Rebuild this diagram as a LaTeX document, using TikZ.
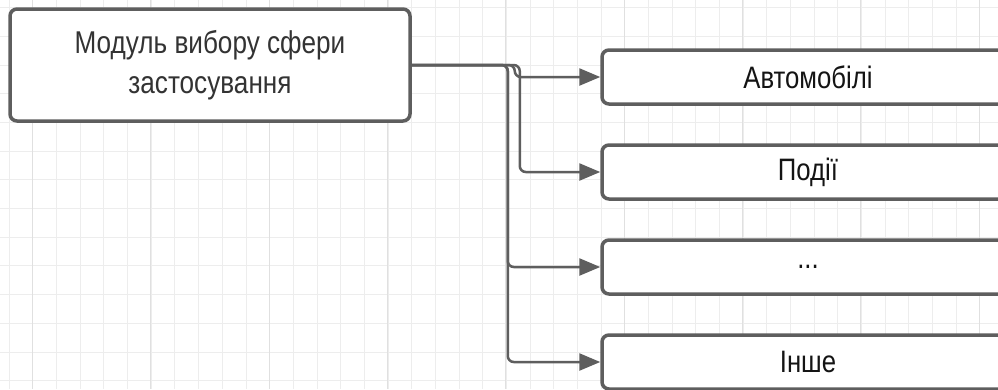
\documentclass[tikz,border=0pt]{standalone}
\usepackage{fontspec}
\setmainfont[FakeStretch=0.83]{Liberation Sans}
\usetikzlibrary{arrows.meta}
\definecolor{linegray}{HTML}{5E5E5E}
\definecolor{gridminor}{HTML}{EDEDED}
\definecolor{gridmajor}{HTML}{E0E0E0}
\tikzstyle{module} = [rectangle, rounded corners=7pt, minimum width=400pt, minimum height=112pt, draw=linegray, line width=3.5pt, fill=white, align=center, font=\fontsize{31.5}{40}\selectfont, text=black!80]
\tikzstyle{option} = [rectangle, rounded corners=7pt, minimum width=412pt, minimum height=54pt, draw=linegray, line width=3.5pt, fill=white, align=center, font=\fontsize{31}{34}\selectfont, text=black!92]
\tikzstyle{arrow} = [line width=2.5pt, draw=linegray, -{Triangle[length=21pt,width=17pt]}, rounded corners=6pt]

\begin{document}
\begin{tikzpicture}[x=1pt, y=-1pt, node distance=95pt]
\useasboundingbox [fill=white] (0,0) rectangle (998,389);

% background grid
\foreach \i in {0,...,42}
  \draw [gridminor, line width=1pt] ({9.3+23.67*\i},0) -- ++(0,389);
\foreach \i in {0,...,13}
  \draw [gridminor, line width=1pt] (0,{7.6+28.7*\i}) -- ++(998,0);
\foreach \i in {0,...,8}
  \draw [gridmajor, line width=1pt] ({32.3+118.35*\i},0) -- ++(0,389);

\node (module) [module] at (210,65) {Модуль вибору сфери\\застосування};
\node (cars) [option] at (808,77) {Автомобілі};
\node (events) [option, below of=cars] {Події};
\node (dots) [option, below of=events] {...};
\node (other) [option, below of=dots] {Інше};

\draw [arrow] (module.east) -- ++(103,0) |- (cars.west);
\draw [arrow] (module.east) -- ++(108,0) |- (events.west);
\draw [arrow] (module.east) -- ++(96,0) |- (dots.west);
\draw [arrow] (module.east) -- ++(96,0) |- (other.west);

\end{tikzpicture}
\end{document}
